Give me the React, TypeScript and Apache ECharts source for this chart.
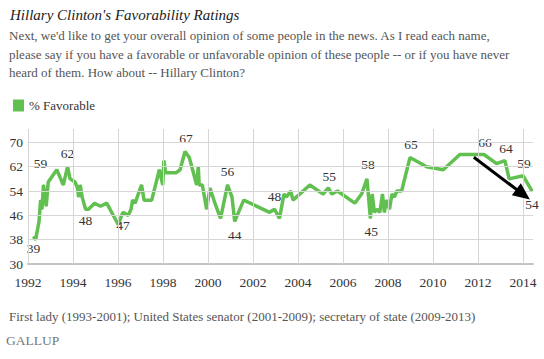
import React, { useEffect, useRef } from "react";
import * as echarts from "echarts";

// Poll dates (decimal years) and % favorable values
const years = [
  1992.24, 1992.34, 1992.49, 1992.56, 1992.62, 1992.69, 1992.81, 1992.9, 1993.28, 1993.57,
  1993.76, 1993.87, 1994.09, 1994.2, 1994.25, 1994.32, 1994.41, 1994.56, 1994.69, 1994.96,
  1995.22, 1995.5, 1996.01, 1996.22, 1996.46, 1996.58, 1996.65, 1996.76, 1997.05, 1997.16,
  1997.5, 1997.84, 1997.99, 1998.04, 1998.12, 1998.58, 1998.76, 1998.98, 1999.17, 1999.5,
  1999.57, 1999.61, 1999.75, 1999.94, 2000.09, 2000.31, 2000.56, 2000.87, 2001.07, 2001.19,
  2001.3, 2001.59, 2002.74, 2002.96, 2003.18, 2003.38, 2003.49, 2003.68, 2003.78, 2004.53,
  2005.12, 2005.35, 2005.51, 2005.76, 2006.53, 2006.83, 2007.07, 2007.22, 2007.3, 2007.4,
  2007.51, 2007.64, 2007.76, 2007.84, 2007.94, 2008.07, 2008.18, 2008.29, 2008.4, 2008.61,
  2008.98, 2009.72, 2010.46, 2011.2, 2012.27, 2012.83, 2013.2, 2013.39, 2014.01, 2014.41,
];
const favorable = [
  39, 38, 44, 51, 48, 56, 49, 57, 61, 56,
  62, 58, 57, 55, 52, 56, 52, 48, 48, 50,
  49, 50, 43, 47, 46, 48, 51, 50, 56, 51,
  51, 61, 56, 64, 60, 60, 61, 67, 65, 56,
  62, 56, 56, 48, 55, 50, 45, 56, 52, 44,
  46, 51, 47, 48, 45, 53, 52, 54, 51, 56,
  53, 55, 53, 54, 50, 53, 58, 45, 53, 47,
  48, 47, 53, 47, 51, 48, 53, 52, 54, 54,
  65, 62, 61, 66, 66, 63, 64, 58, 59, 54,
];
// Annotated points: index into the series, and the text shown
const labelIndex = [0, 5, 10, 17, 23, 37, 47, 49, 53, 61, 66, 67, 80, 84, 86, 88, 89];
const labelText = ["39", "59", "62", "48", "47", "67", "56", "44", "48", "55", "58", "45", "65", "66", "64", "59", "54"];

const yTicks = [38, 46, 54, 62, 70];
const xTicks = [1992, 1994, 1996, 1998, 2000, 2002, 2004, 2006, 2008, 2010, 2012, 2014];
const arrowFrom = [2011.82, 65.1];
const arrowTo = [2014.01, 52.9];

const titleText = "Hillary Clinton's Favorability Ratings";
const subtitleLines = [
  "Next, we'd like to get your overall opinion of some people in the news. As I read each name,",
  "please say if you have a favorable or unfavorable opinion of these people -- or if you have never",
  "heard of them. How about -- Hillary Clinton?",
];
const footnote = "First lady (1993-2001); United States senator (2001-2009); secretary of state (2009-2013)";
const sourceText = "GALLUP";
const seriesName = "% Favorable";

// label centre offset (px) from its point, per annotated point
const labelOffsets: number[][] = [
  [0, 12],
  [-3, -21],
  [0, -13],
  [0, 11],
  [0, 13],
  [1, -13],
  [0, -13],
  [0, 14],
  [0, -13],
  [1, -11],
  [1, -14],
  [1, 13],
  [1, -13],
  [1, -12],
  [1, -12],
  [1, -12],
  [0, 13],
];

const FONT = "'Liberation Serif', 'DejaVu Serif', serif";
const GREEN = "#62c050";

export default function App() {
  const ref = useRef<HTMLDivElement>(null);
  useEffect(() => {
    if (!ref.current) return;
    const chart = echarts.init(ref.current, null, { renderer: "svg" });
    const data = years.map((y, i) => {
      const li = labelIndex.indexOf(i);
      if (li < 0) return { value: [y, favorable[i]], label: { show: false } };
      const [dx, dy] = labelOffsets[li];
      return {
        value: [y, favorable[i]],
        label: {
          show: true,
          position: [dx + 0.5, dy + 0.5],
          align: "center",
          verticalAlign: "middle",
          formatter: labelText[li],
        },
      };
    });
    chart.setOption({
      animation: false,
      textStyle: { fontFamily: FONT },
      grid: { left: 28, right: 11, top: 129, bottom: 95, containLabel: false },
      legend: {
        data: [{ name: seriesName, itemStyle: { color: GREEN, opacity: 1 } }],
        left: 8,
        top: 94,
        icon: "rect",
        itemWidth: 11,
        itemHeight: 12,
        itemGap: 6,
        textStyle: { fontFamily: FONT, fontSize: 13, color: "#333" },
        selectedMode: false,
      },
      xAxis: {
        type: "value",
        min: 1992,
        max: 2014.45,
        interval: 2,
        axisLine: { show: true, lineStyle: { color: "#c4c4c4", width: 2 } },
        axisTick: { show: false },
        splitLine: { show: false },
        axisLabel: {
          showMaxLabel: false,
          margin: 11,
          fontFamily: FONT,
          fontSize: 13.5,
          color: "#333",
          formatter: (v: number) => String(v),
        },
      },
      yAxis: {
        type: "value",
        min: 30,
        max: 74.4,
        interval: 8,
        axisLine: { show: false },
        axisTick: { show: false },
        splitLine: { show: false },
        axisLabel: {
          showMaxLabel: false,
          margin: 5,
          fontFamily: FONT,
          fontSize: 13.5,
          color: "#333",
        },
      },
      graphic: [
        {
          type: "text",
          left: 10,
          top: 7,
          style: { text: titleText, font: `italic 15px ${FONT}`, fill: "#222" },
        },
        ...subtitleLines.map((t, i) => ({
          type: "text",
          left: 9,
          top: 29 + i * 18.5,
          style: { text: t, font: `13px ${FONT}`, fill: "#555" },
        })),
        {
          type: "text",
          left: 9,
          top: 310,
          style: { text: footnote, font: `13px ${FONT}`, fill: "#555" },
        },
        {
          type: "text",
          left: 6,
          top: 333,
          style: { text: sourceText, font: `13.5px ${FONT}`, fill: "#777" },
        },
      ],
      series: [
        {
          name: "grid",
          type: "line",
          data: [[1992, 30]],
          showSymbol: false,
          lineStyle: { opacity: 0 },
          silent: true,
          z: 1,
          markLine: {
            silent: true,
            symbol: "none",
            label: { show: false },
            lineStyle: { color: "#d6d6d6", width: 1, type: "solid" },
            data: [
              ...yTicks.map((v) => ({ yAxis: v })),
              ...xTicks.map((v) => ({ xAxis: v })),
            ],
          },
        },
        {
          name: seriesName,
          type: "line",
          data,
          showSymbol: true,
          showAllSymbol: true,
          symbol: "circle",
          symbolSize: 1,
          itemStyle: { color: GREEN },
          color: GREEN,
          lineStyle: { color: GREEN, width: 3.5 },
          label: {
            show: false,
            fontFamily: FONT,
            fontSize: 13.5,
            color: "#333",
          },
          labelLayout: { hideOverlap: false },
          z: 3,
        },
        {
          name: "arrow",
          type: "line",
          data: [],
          silent: true,
          z: 5,
          markLine: {
            silent: true,
            symbol: ["none", "triangle"],
            symbolSize: [15, 17],
            label: { show: false },
            itemStyle: { color: "#000" },
            lineStyle: { color: "#000", width: 3, type: "solid" },
            data: [[{ coord: arrowFrom }, { coord: arrowTo }]],
          },
        },
      ],
    });
    return () => chart.dispose();
  }, []);
  return <div ref={ref} style={{ width: 544, height: 359, position: "absolute", left: 0, top: 0 }} />;
}
